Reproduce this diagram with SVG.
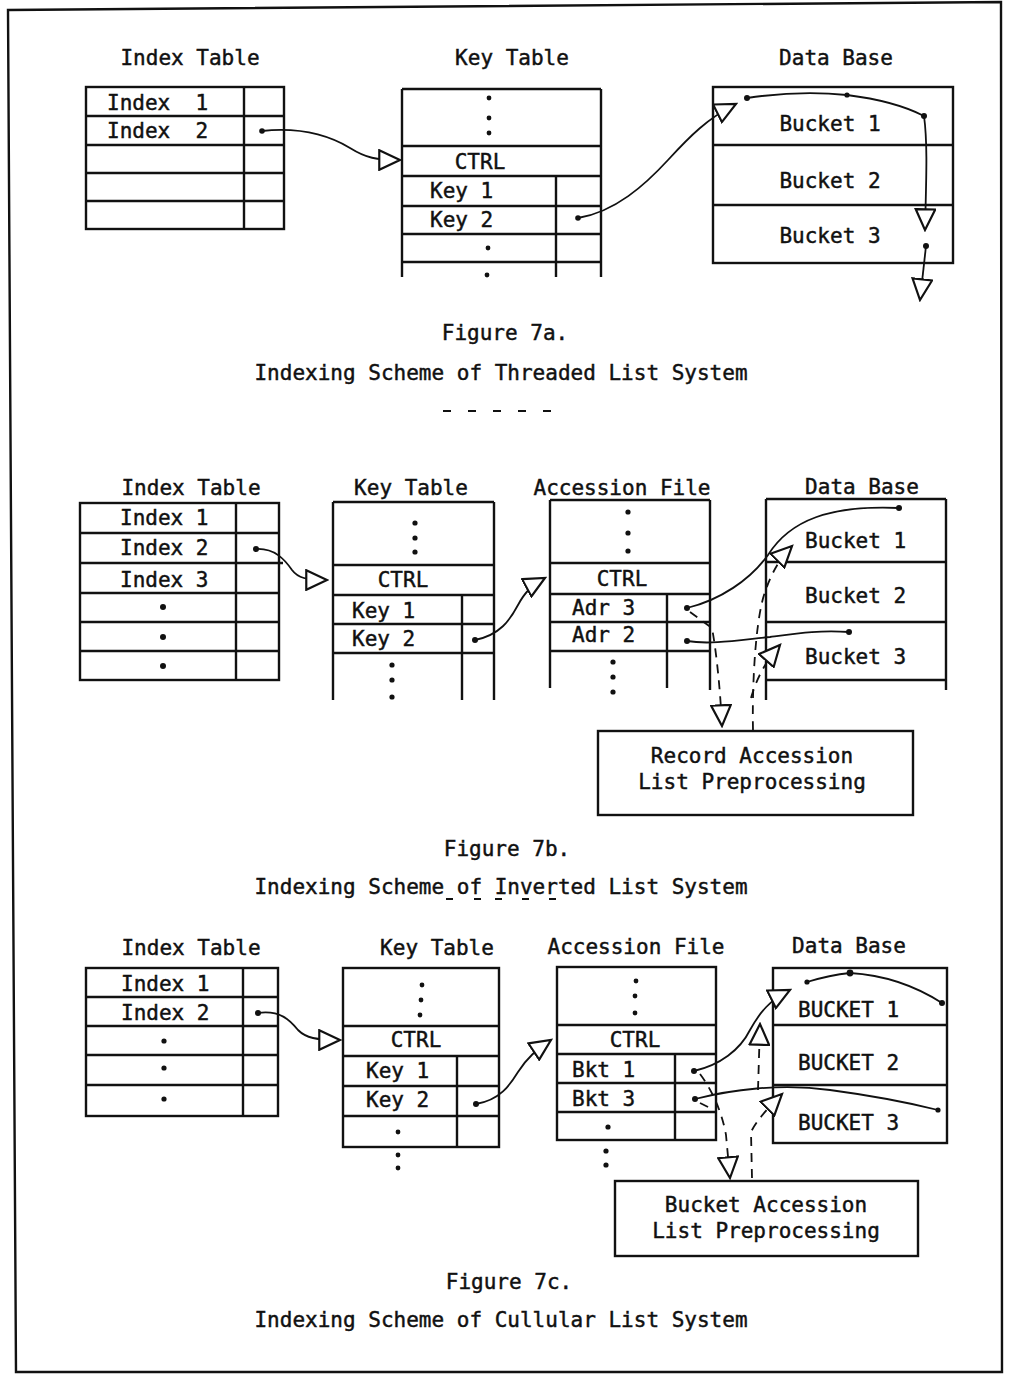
<svg xmlns="http://www.w3.org/2000/svg" width="1010" height="1375" viewBox="0 0 1010 1375">
<defs>
<style>
text{font-family:"DejaVu Sans Mono","Liberation Mono",monospace;font-size:21px;fill:#111;stroke:#111;stroke-width:0.45;white-space:pre}
.c{text-anchor:middle}
.t{stroke:#111;stroke-width:2.4;fill:none}
.k{stroke:#111;stroke-width:1.8;fill:none}
.d{stroke:#111;stroke-width:1.8;fill:none;stroke-dasharray:9 7}
.a{marker-end:url(#tri)}
.dot{fill:#111}
</style>
<marker id="tri" markerUnits="userSpaceOnUse" markerWidth="24" markerHeight="22" viewBox="-1 -1 22 20" refX="19" refY="9" orient="auto">
<path d="M0,0 L19,9 L0,18 Z" fill="#fff" stroke="#111" stroke-width="2"/>
</marker>
</defs>
<rect width="1010" height="1375" fill="#fff"/>
<path d="M8,10 L1001,2 L1002,1372 L16,1372 Z" class="t"/>

<!-- ============ Figure 7a ============ -->
<g id="a-index">
<text x="190" y="65" class="c">Index Table</text>
<rect x="86" y="87" width="198" height="142" class="t"/>
<path d="M86,116H284M86,145H284M86,173H284M86,201H284M244,87V229" class="t"/>
<text x="107" y="110" xml:space="preserve">Index  1</text>
<text x="107" y="138" xml:space="preserve">Index  2</text>
<circle cx="262" cy="131" r="2.8" class="dot"/>
</g>
<g id="a-key">
<text x="512" y="65" class="c">Key Table</text>
<path d="M402,89H601M402,89V277M601,89V277M402,146H601M402,176H601M402,206H601M402,234H601M402,262H601M556,176V277" class="t"/>
<circle cx="489" cy="98" r="2.4" class="dot"/><circle cx="489" cy="118" r="2.4" class="dot"/><circle cx="489" cy="133" r="2.4" class="dot"/>
<text x="480" y="169" class="c">CTRL</text>
<text x="430" y="198">Key 1</text>
<text x="430" y="227">Key 2</text>
<circle cx="488" cy="248" r="2.4" class="dot"/><circle cx="487" cy="275" r="2.4" class="dot"/>
<circle cx="578" cy="218" r="2.8" class="dot"/>
</g>
<g id="a-db">
<text x="836" y="65" class="c">Data Base</text>
<rect x="713" y="87" width="240" height="176" class="t"/>
<path d="M713,145H953M713,205H953" class="t"/>
<text x="830" y="131" class="c">Bucket 1</text>
<text x="830" y="188" class="c">Bucket 2</text>
<text x="830" y="243" class="c">Bucket 3</text>
<circle cx="747" cy="98" r="3" class="dot"/><circle cx="847" cy="95" r="2.6" class="dot"/><circle cx="924" cy="116" r="3" class="dot"/>
<circle cx="926" cy="246" r="3" class="dot"/>
</g>
<g id="a-conn">
<path d="M262,131 C300,127 330,136 350,148 C366,158 376,160 400,160" class="k a"/>
<path d="M578,218 C615,212 645,185 668,160 C690,136 708,118 736,104" class="k a"/>
<path d="M747,98 Q800,90 847,95 Q895,101 924,116" class="k"/>
<path d="M924,116 C928,145 926,185 925,230" class="k a"/>
<path d="M926,246 L920,300" class="k a"/>
</g>
<text x="505" y="340" class="c">Figure 7a.</text>
<text x="501" y="380" class="c">Indexing Scheme of Threaded List System</text>
<path d="M443,411H562" stroke="#111" stroke-width="2" stroke-dasharray="8 17"/>

<!-- ============ Figure 7b ============ -->
<g id="b-index">
<text x="191" y="495" class="c">Index Table</text>
<rect x="80" y="503" width="199" height="177" class="t"/>
<path d="M80,533H279M80,563H283M80,593H279M80,622H279M80,651H279M236,503V680" class="t"/>
<text x="120" y="525">Index 1</text>
<text x="120" y="555">Index 2</text>
<text x="120" y="587">Index 3</text>
<circle cx="163" cy="607" r="3" class="dot"/><circle cx="163" cy="637" r="3" class="dot"/><circle cx="163" cy="666" r="3" class="dot"/>
<circle cx="256" cy="549" r="3" class="dot"/>
</g>
<g id="b-key">
<text x="411" y="495" class="c">Key Table</text>
<path d="M333,502H494M333,502V700M494,502V700M333,565H494M333,595H494M333,624H494M333,653H494M462,595V700" class="t"/>
<circle cx="415" cy="523" r="2.6" class="dot"/><circle cx="415" cy="538" r="2.6" class="dot"/><circle cx="415" cy="552" r="2.6" class="dot"/>
<text x="403" y="587" class="c">CTRL</text>
<text x="352" y="618">Key 1</text>
<text x="352" y="646">Key 2</text>
<circle cx="392" cy="665" r="2.6" class="dot"/><circle cx="392" cy="680" r="2.6" class="dot"/><circle cx="392" cy="697" r="2.6" class="dot"/>
<circle cx="475" cy="640" r="3" class="dot"/>
</g>
<g id="b-acc">
<text x="622" y="495" class="c">Accession File</text>
<path d="M550,500H710M550,500V688M710,500V690M550,563H710M550,594H710M550,622H710M550,651H710M667,594V688" class="t"/>
<circle cx="628" cy="512" r="2.6" class="dot"/><circle cx="628" cy="533" r="2.6" class="dot"/><circle cx="628" cy="551" r="2.6" class="dot"/>
<text x="622" y="586" class="c">CTRL</text>
<text x="572" y="615">Adr 3</text>
<text x="572" y="642">Adr 2</text>
<circle cx="613" cy="662" r="2.6" class="dot"/><circle cx="613" cy="677" r="2.6" class="dot"/><circle cx="613" cy="692" r="2.6" class="dot"/>
<circle cx="687" cy="608" r="3" class="dot"/><circle cx="687" cy="641" r="3" class="dot"/>
</g>
<g id="b-db">
<text x="862" y="494" class="c">Data Base</text>
<path d="M766,499H946M766,499V700M946,499V690M766,562H946M766,622H946M766,680H946" class="t"/>
<text x="805" y="548">Bucket 1</text>
<text x="805" y="603">Bucket 2</text>
<text x="805" y="664">Bucket 3</text>
<circle cx="899" cy="508" r="3" class="dot"/><circle cx="849" cy="632" r="3" class="dot"/>
</g>
<g id="b-rec">
<rect x="598" y="731" width="315" height="84" class="t"/>
<text x="752" y="763" class="c">Record Accession</text>
<text x="752" y="789" class="c">List Preprocessing</text>
</g>
<g id="b-conn">
<path d="M256,549 C275,548 285,560 292,570 C298,578 306,580 327,580" class="k a"/>
<path d="M475,640 C500,635 510,620 518,605 C525,592 532,585 545,578" class="k a"/>
<path d="M687,608 C720,600 750,580 768,555 C790,520 830,505 899,508" class="k"/>
<path d="M687,641 C710,645 740,640 770,637 C800,633 820,630 849,632" class="k"/>
<path d="M690,612 L712,628 C716,650 720,685 722,726" class="d a"/>
<path d="M753,730 C752,690 755,620 765,592 C772,572 780,558 792,546" class="d a"/>
<path d="M751,698 C756,680 765,662 780,645" class="d a"/>
</g>
<text x="507" y="856" class="c">Figure 7b.</text>
<text x="501" y="894" class="c">Indexing Scheme of Inverted List System</text>
<path d="M446,899H453M474,899H481M495,899H502M522,899H529M549,899H556" stroke="#111" stroke-width="2"/>

<!-- ============ Figure 7c ============ -->
<g id="c-index">
<text x="191" y="955" class="c">Index Table</text>
<rect x="86" y="968" width="192" height="148" class="t"/>
<path d="M86,997H278M86,1026H278M86,1055H278M86,1085H278M243,968V1116" class="t"/>
<text x="121" y="991">Index 1</text>
<text x="121" y="1020">Index 2</text>
<circle cx="164" cy="1041" r="2.6" class="dot"/><circle cx="164" cy="1068" r="2.6" class="dot"/><circle cx="164" cy="1099" r="2.6" class="dot"/>
<circle cx="258" cy="1013" r="3" class="dot"/>
</g>
<g id="c-key">
<text x="437" y="955" class="c">Key Table</text>
<rect x="343" y="968" width="156" height="179" class="t"/>
<path d="M343,1026H499M343,1056H499M343,1086H499M343,1116H499M457,1056V1147" class="t"/>
<circle cx="422" cy="985" r="2.4" class="dot"/><circle cx="421" cy="1000" r="2.4" class="dot"/><circle cx="420" cy="1015" r="2.4" class="dot"/>
<text x="416" y="1047" class="c">CTRL</text>
<text x="366" y="1078">Key 1</text>
<text x="366" y="1107">Key 2</text>
<circle cx="398" cy="1132" r="2.4" class="dot"/><circle cx="398" cy="1155" r="2.4" class="dot"/><circle cx="398" cy="1168" r="2.4" class="dot"/>
<circle cx="476" cy="1104" r="3" class="dot"/>
</g>
<g id="c-acc">
<text x="636" y="954" class="c">Accession File</text>
<rect x="557" y="967" width="159" height="173" class="t"/>
<path d="M557,1025H716M557,1054H716M557,1083H716M557,1112H716M675,1054V1140" class="t"/>
<circle cx="636" cy="981" r="2.4" class="dot"/><circle cx="635" cy="996" r="2.4" class="dot"/><circle cx="635" cy="1013" r="2.4" class="dot"/>
<text x="635" y="1047" class="c">CTRL</text>
<text x="572" y="1077">Bkt 1</text>
<text x="572" y="1106">Bkt 3</text>
<circle cx="608" cy="1127" r="2.6" class="dot"/><circle cx="606" cy="1151" r="2.6" class="dot"/><circle cx="606" cy="1165" r="2.6" class="dot"/>
<circle cx="694" cy="1071" r="3" class="dot"/><circle cx="695" cy="1099" r="3" class="dot"/>
</g>
<g id="c-db">
<text x="849" y="953" class="c">Data Base</text>
<rect x="773" y="968" width="174" height="175" class="t"/>
<path d="M773,1025H947M773,1085H947" class="t"/>
<text x="798" y="1017">BUCKET 1</text>
<text x="798" y="1070">BUCKET 2</text>
<text x="798" y="1130">BUCKET 3</text>
<circle cx="807" cy="982" r="2.6" class="dot"/><circle cx="850" cy="973" r="3.4" class="dot"/><circle cx="942" cy="1003" r="3" class="dot"/>
<circle cx="938" cy="1110" r="2.6" class="dot"/>
</g>
<g id="c-buc">
<rect x="615" y="1181" width="303" height="75" class="t"/>
<text x="766" y="1212" class="c">Bucket Accession</text>
<text x="766" y="1238" class="c">List Preprocessing</text>
</g>
<g id="c-conn">
<path d="M258,1013 C280,1010 290,1020 298,1030 C306,1038 316,1040 340,1040" class="k a"/>
<path d="M476,1104 C500,1100 510,1085 518,1072 C527,1058 536,1050 551,1040" class="k a"/>
<path d="M694,1071 C720,1065 740,1050 750,1030 C760,1012 770,1000 790,990" class="k a"/>
<path d="M807,982 Q830,975 850,973 Q900,976 942,1003" class="k"/>
<path d="M695,1099 C730,1090 780,1083 830,1090 Q890,1098 938,1110" class="k"/>
<path d="M700,1074 C712,1090 722,1112 726,1135 L730,1178" class="d a"/>
<path d="M700,1103 L714,1110" class="d"/>
<path d="M752,1178 L751,1132 C757,1120 768,1108 782,1094" class="d a"/>
<path d="M758,1090 L760,1024" class="d a"/>
</g>
<text x="509" y="1289" class="c">Figure 7c.</text>
<text x="501" y="1327" class="c">Indexing Scheme of Cullular List System</text>
</svg>
